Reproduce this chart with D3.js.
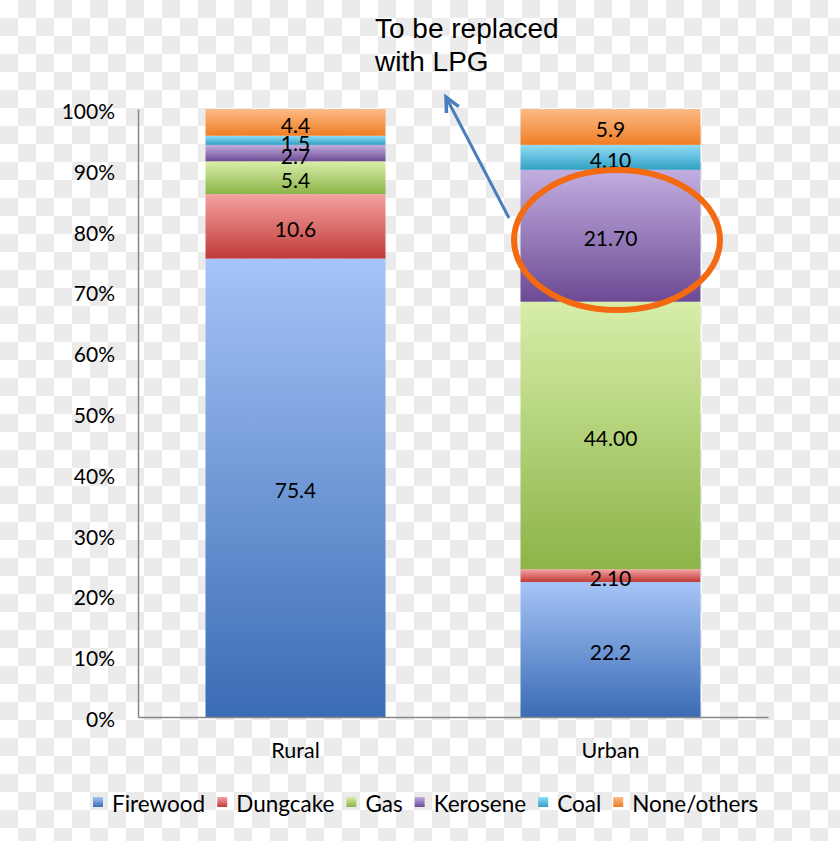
<!DOCTYPE html>
<html><head><meta charset="utf-8">
<script src="https://cdn.jsdelivr.net/npm/d3@7"></script>
<style>html,body{margin:0;padding:0;background:#fff;}svg{display:block;}</style>
</head><body>
<svg id="chart" width="840" height="841"></svg>
<script>
const categories = ["Rural", "Urban"];
const fuels = ["Firewood", "Dungcake", "Gas", "Kerosene", "Coal", "None/others"];
const ruralValues = [75.4, 10.6, 5.4, 2.7, 1.5, 4.4];
const urbanValues = [22.2, 2.1, 44.0, 21.7, 4.1, 5.9];
const ruralLabels = ["75.4", "10.6", "5.4", "2.7", "1.5", "4.4"];
const urbanLabels = ["22.2", "2.10", "44.00", "21.70", "4.10", "5.9"];
const yTicks = [0, 10, 20, 30, 40, 50, 60, 70, 80, 90, 100];
const annotationLines = ["To be replaced", "with LPG"];

const fuelColors = [
  ["#a6c4f7", "#3a6cb4"],
  ["#f5a3a2", "#bf3a37"],
  ["#d8eea9", "#8cb448"],
  ["#c2aee0", "#6c4a94"],
  ["#93dcf5", "#2fa0c4"],
  ["#fcbb88", "#ef7d24"]
];

const svg = d3.select("#chart");
const W = 840, H = 841;
const defs = svg.append("defs");

// checkerboard background
const pat = defs.append("pattern").attr("id", "checker").attr("patternUnits", "userSpaceOnUse")
  .attr("width", 36).attr("height", 36);
pat.append("rect").attr("width", 36).attr("height", 36).attr("fill", "#ffffff");
pat.append("rect").attr("x", 18).attr("y", 0).attr("width", 18).attr("height", 18).attr("fill", "#ebebeb");
pat.append("rect").attr("x", 0).attr("y", 18).attr("width", 18).attr("height", 18).attr("fill", "#ebebeb");
svg.append("rect").attr("width", W).attr("height", H).attr("fill", "url(#checker)");

fuelColors.forEach((c, i) => {
  const g = defs.append("linearGradient").attr("id", "grad" + i)
    .attr("x1", 0).attr("y1", 0).attr("x2", 0).attr("y2", 1);
  g.append("stop").attr("offset", "0%").attr("stop-color", c[0]);
  g.append("stop").attr("offset", "100%").attr("stop-color", c[1]);
});

const plot = {left: 138, right: 768, top: 109, bottom: 717};
const x = d3.scaleBand().domain(categories).range([plot.left, plot.right])
  .paddingInner(135 / 315).paddingOuter(135 / 630);
const y = d3.scaleLinear().domain([0, 100]).range([plot.bottom, plot.top]);

const rows = categories.map((c, i) => {
  const vals = i === 0 ? ruralValues : urbanValues;
  const row = {category: c};
  fuels.forEach((f, j) => row[f] = vals[j]);
  return row;
});
const stacked = d3.stack().keys(fuels)(rows);
const labelsByCat = {Rural: ruralLabels, Urban: urbanLabels};

const FONT = "Lato, 'Open Sans', sans-serif";

// bars
stacked.forEach((layer, j) => {
  svg.append("g").selectAll("rect").data(layer).join("rect")
    .attr("x", d => x(d.data.category))
    .attr("width", x.bandwidth())
    .attr("y", d => y(d[1]))
    .attr("height", d => y(d[0]) - y(d[1]))
    .attr("fill", "url(#grad" + j + ")");
});
// value labels
stacked.forEach((layer, j) => {
  svg.append("g").selectAll("text").data(layer).join("text")
    .attr("x", d => x(d.data.category) + x.bandwidth() / 2)
    .attr("y", d => (y(d[0]) + y(d[1])) / 2 + 2)
    .attr("text-anchor", "middle")
    .attr("dominant-baseline", "central")
    .attr("font-family", FONT).attr("font-size", 21).attr("fill", "#000")
    .text(d => labelsByCat[d.data.category][j]);
});

// axes
const yAxis = d3.axisLeft(y).tickValues(yTicks).tickSize(0).tickPadding(23).tickFormat(d => d + "%");
const ya = svg.append("g").attr("transform", `translate(${plot.left},0)`).call(yAxis);
ya.select(".domain").attr("stroke", "#888").attr("stroke-width", 1.5);
ya.selectAll("text").attr("font-family", FONT).attr("font-size", 21).attr("fill", "#000").attr("dy", "0.45em");

const xAxis = d3.axisBottom(x).tickSize(0).tickPadding(26);
const xa = svg.append("g").attr("transform", `translate(0,${plot.bottom})`).call(xAxis);
xa.select(".domain").attr("stroke", "#888").attr("stroke-width", 1.5);
xa.selectAll("text").attr("font-family", FONT).attr("font-size", 21.5).attr("fill", "#000");

// legend
const legend = svg.append("g");
let lx = 93;
const ly = 803;
fuels.forEach((f, j) => {
  legend.append("rect").attr("x", lx).attr("y", ly - 6).attr("width", 10).attr("height", 10)
    .attr("fill", "url(#grad" + j + ")");
  const t = legend.append("text").attr("x", lx + 19).attr("y", ly).attr("dominant-baseline", "central")
    .attr("font-family", FONT).attr("font-size", 22.5).attr("fill", "#000").text(f);
  lx += 19 + t.node().getComputedTextLength() + 12;
});

// ellipse highlight
svg.append("ellipse").attr("cx", 617).attr("cy", 240).attr("rx", 103).attr("ry", 70)
  .attr("fill", "none").attr("stroke", "#f36a10").attr("stroke-width", 6);

// arrow
const ax0 = 509, ay0 = 218, ax1 = 446, ay1 = 97;
svg.append("line").attr("x1", ax0).attr("y1", ay0).attr("x2", ax1).attr("y2", ay1)
  .attr("stroke", "#4a7ebb").attr("stroke-width", 3);
const ang = Math.atan2(ay0 - ay1, ax0 - ax1);
const hl = 16, spread = 0.45;
svg.append("path")
  .attr("d", `M${ax1 + hl * Math.cos(ang - spread)},${ay1 + hl * Math.sin(ang - spread)} L${ax1},${ay1} L${ax1 + hl * Math.cos(ang + spread)},${ay1 + hl * Math.sin(ang + spread)}`)
  .attr("fill", "none").attr("stroke", "#4a7ebb").attr("stroke-width", 3.5).attr("stroke-linejoin", "miter");

// annotation text
svg.append("g").selectAll("text").data(annotationLines).join("text")
  .attr("x", 375).attr("y", (d, i) => 38 + i * 33)
  .attr("font-family", "'Liberation Sans', Arial, sans-serif").attr("font-size", 28).attr("fill", "#000")
  .text(d => d);
</script>
</body></html>
